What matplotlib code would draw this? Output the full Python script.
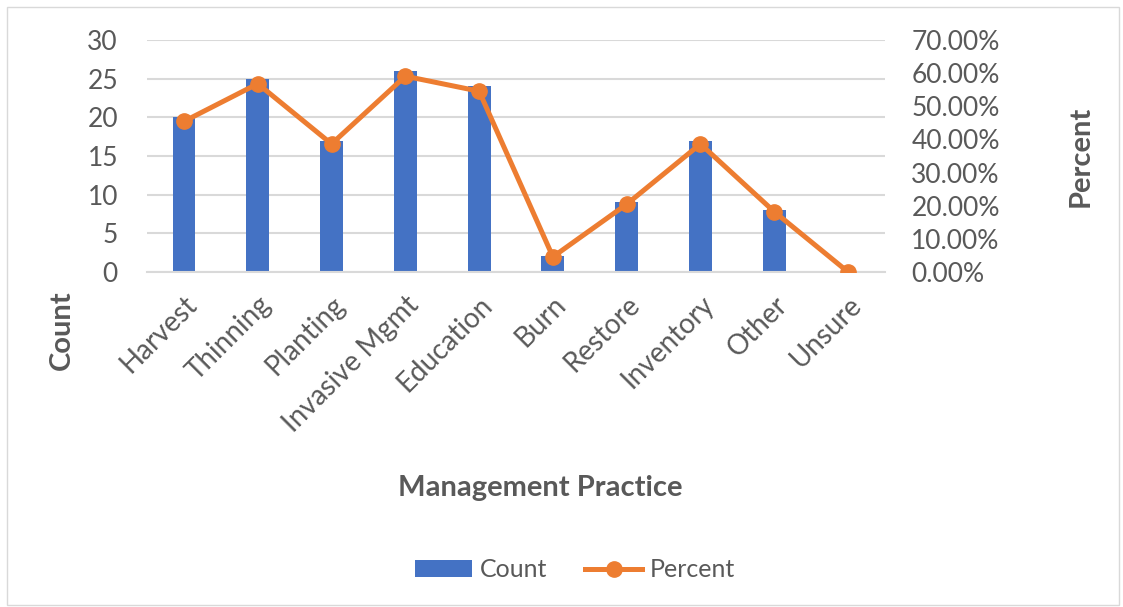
import matplotlib.pyplot as plt
import numpy as np
from matplotlib.patches import Rectangle

categories = ['Harvest', 'Thinning', 'Planting', 'Invasive Mgmt', 'Education',
              'Burn', 'Restore', 'Inventory', 'Other', 'Unsure']
counts = [20, 25, 17, 26, 24, 2, 9, 17, 8, 0]
percents = [45.45, 56.82, 38.64, 59.09, 54.55, 4.55, 20.45, 38.64, 18.18, 0.0]

blue = '#4472C4'
orange = '#ED7D31'
txt = '#595959'
plt.rcParams['font.family'] = ['Lato', 'DejaVu Sans']

fig = plt.figure(figsize=(11.23, 6.07), dpi=100)
ax = fig.add_axes([0.131, 0.552, 0.657, 0.382])
x = np.arange(len(categories))

# === bars (count) === #
ax.bar(x, counts, width=0.31, color=blue, zorder=2, label='Count')
ax.set_ylim(0, 30)
ax.set_yticks(range(0, 31, 5))
ax.set_xlim(-0.5, len(categories) - 0.5)
ax.yaxis.grid(True, color='#D9D9D9', linewidth=1.5, zorder=0)
ax.set_axisbelow(True)
for s in ax.spines.values():
    s.set_visible(False)
ax.spines['bottom'].set_visible(True)
ax.spines['bottom'].set_color('#D9D9D9')
ax.spines['bottom'].set_linewidth(1.5)
ax.tick_params(length=0, labelsize=19, colors=txt)
ax.tick_params(axis='y', pad=21)
ax.set_xticks(x)
ax.set_xticklabels(categories, rotation=45, ha='right', rotation_mode='anchor',
                   fontsize=20)
ax.tick_params(axis='x', pad=14)

# === line (percent) === #
ax2 = ax.twinx()
ax2.plot(x, percents, color=orange, linewidth=3.6, marker='o', markersize=11,
         label='Percent', zorder=3)
ax2.set_ylim(0, 70)
ax2.set_yticks(range(0, 71, 10))
ax2.set_yticklabels(['%.2f%%' % v for v in range(0, 71, 10)])
for s in ax2.spines.values():
    s.set_visible(False)
ax2.tick_params(length=0, labelsize=19, colors=txt, pad=19)

fig.text(0.055, 0.456, 'Count', rotation=90, ha='center', va='center',
         fontsize=21, fontweight='bold', color=txt)
fig.text(0.962, 0.742, 'Percent', rotation=90, ha='center', va='center',
         fontsize=21, fontweight='bold', color=txt)
fig.text(0.481, 0.196, 'Management Practice', ha='center', va='center',
         fontsize=21, fontweight='bold', color=txt)

h1, l1 = ax.get_legend_handles_labels()
h2, l2 = ax2.get_legend_handles_labels()
fig.legend(h1 + h2, l1 + l2, loc='center', bbox_to_anchor=(0.512, 0.061),
           ncol=2, frameon=False, fontsize=18, labelcolor=txt,
           handlelength=2.3, handletextpad=0.3, columnspacing=1.5)

fig.patches.append(Rectangle((0.006, 0.003), 0.99, 0.985, transform=fig.transFigure,
                             fill=False, edgecolor='#D9D9D9', linewidth=1))

fig.savefig('out.png', dpi=100)
